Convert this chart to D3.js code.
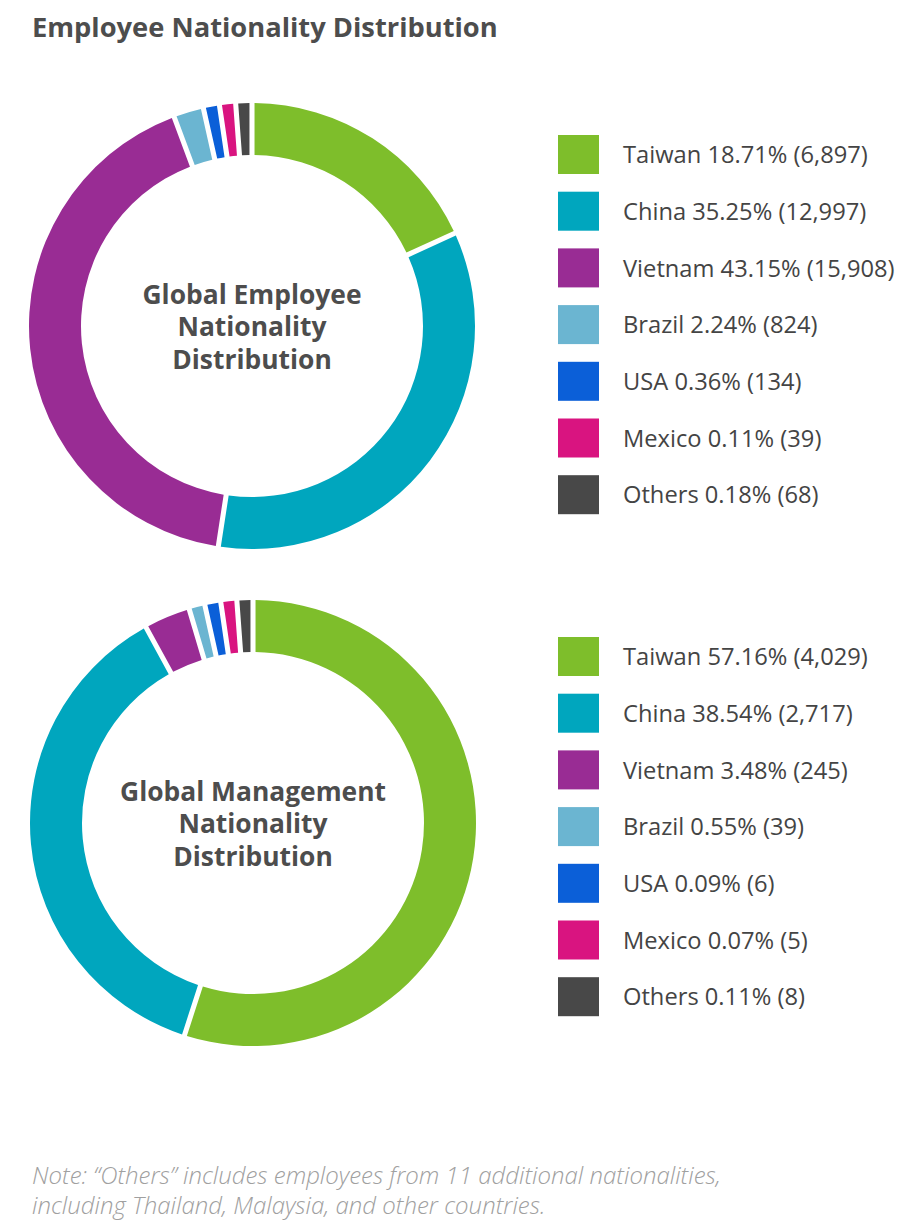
<!DOCTYPE html>
<html>
<head>
<meta charset="utf-8">
<script src="https://cdn.jsdelivr.net/npm/d3@7"></script>
<style>
  html, body { margin: 0; padding: 0; background: #fff; }
  svg { display: block; font-family: "Open Sans", "Noto Sans", sans-serif; }
</style>
</head>
<body>
<div id="chart"></div>
<script>
// nationality categories, shared by both donuts
const countries = ["Taiwan", "China", "Vietnam", "Brazil", "USA", "Mexico", "Others"];
const colors = ["#7ebe2b", "#00a6be", "#992c94", "#6bb5d1", "#0b5fd8", "#d91480", "#484848"];

// global employees
const employeePct = [18.71, 35.25, 43.15, 2.24, 0.36, 0.11, 0.18];
const employeeCount = [6897, 12997, 15908, 824, 134, 39, 68];

// global management
const managementPct = [57.16, 38.54, 3.48, 0.55, 0.09, 0.07, 0.11];
const managementCount = [4029, 2717, 245, 39, 6, 5, 8];

const width = 908, height = 1232;
const outer_r = 223, inner_r = 171;
const min_share = 1.2; // tiny slices get a minimum visible size

const svg = d3.select('#chart')
  .append('svg')
    .attr('width', width)
    .attr('height', height);

svg.append('text')
  .attr('x', 32)
  .attr('y', 37)
  .attr('font-size', 27.3)
  .attr('font-weight', 700)
  .attr('fill', '#4d4d4d')
  .text('Employee Nationality Distribution');

function donut(cx, cy, pct, counts, title_lines, legend_top)
{
  const rows = countries.map((c, i) => ({name: c, pct: pct[i], count: counts[i], color: colors[i]}));

  const pie = d3.pie()
    .sort(null)
    .value(d => Math.max(d.pct, min_share));

  const arc = d3.arc()
    .innerRadius(inner_r)
    .outerRadius(outer_r)
    .padAngle(0.018);

  const g = svg.append('g')
    .attr('transform', 'translate(' + cx + ',' + cy + ')');

  g.selectAll('path')
    .data(pie(rows))
    .join('path')
      .attr('d', arc)
      .attr('fill', d => d.data.color);

  g.append('text')
    .attr('text-anchor', 'middle')
    .attr('font-size', 26.4)
    .attr('font-weight', 700)
    .attr('fill', '#4d4d4d')
    .selectAll('tspan')
    .data(title_lines)
    .join('tspan')
      .attr('x', 0)
      .attr('y', (d, i) => (i - 1) * 32.5 + 10)
      .text(d => d);

  const row_h = 56.7;
  const legend = svg.append('g')
    .attr('transform', 'translate(558,' + legend_top + ')');

  const item = legend.selectAll('g')
    .data(rows)
    .join('g')
      .attr('transform', (d, i) => 'translate(0,' + (i * row_h) + ')');

  item.append('rect')
    .attr('width', 41)
    .attr('height', 39)
    .attr('fill', d => d.color);

  item.append('text')
    .attr('x', 65)
    .attr('y', 20)
    .attr('dy', '0.35em')
    .attr('font-size', 23.7)
    .attr('fill', '#444')
    .text(d => d.name + ' ' + d.pct.toFixed(2) + '% (' + d3.format(',')(d.count) + ')');
}

donut(252, 326, employeePct, employeeCount,
  ['Global Employee', 'Nationality', 'Distribution'], 135);
donut(253, 823, managementPct, managementCount,
  ['Global Management', 'Nationality', 'Distribution'], 637);

const note = svg.append('text')
  .attr('font-size', 24)
  .attr('font-style', 'italic')
  .attr('font-weight', 300)
  .attr('fill', '#a0a0a0');

note.append('tspan')
  .attr('x', 32)
  .attr('y', 1184)
  .text('Note: \u201cOthers\u201d includes employees from 11 additional nationalities,');
note.append('tspan')
  .attr('x', 32)
  .attr('y', 1214)
  .text('including Thailand, Malaysia, and other countries.');
</script>
</body>
</html>
